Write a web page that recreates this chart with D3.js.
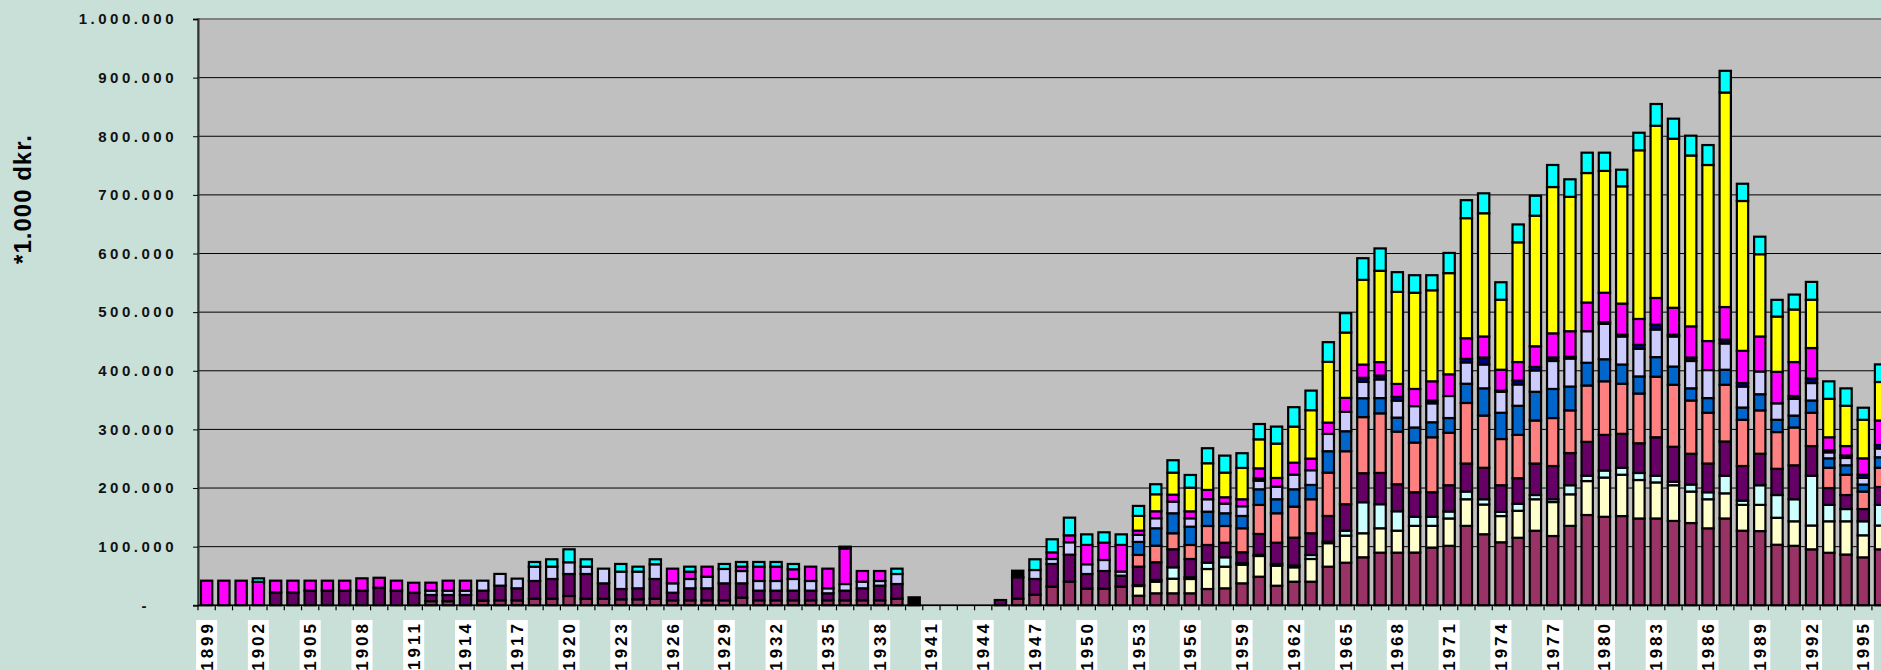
<!DOCTYPE html>
<html>
<head>
<meta charset="utf-8">
<script src="https://cdn.jsdelivr.net/npm/d3@7"></script>
<style>
  html, body { margin: 0; padding: 0; background: #c9e0d8; overflow: hidden; }
  svg { display: block; }
  .yaxis text { font-family: "Liberation Sans", Arial, sans-serif; font-weight: bold; font-size: 15px; letter-spacing: 3.5px; fill: #111; }
  .xlabel { font-family: "Liberation Sans", Arial, sans-serif; font-weight: bold; font-size: 17px; letter-spacing: 3px; fill: #000; }
  .ytitle { font-family: "Liberation Sans", Arial, sans-serif; font-weight: bold; font-size: 24px; letter-spacing: 1px; fill: #000; }
</style>
</head>
<body>
<div id="chart"></div>
<script>
// category axis runs on past the right edge of the window, values read up to 1996
const years = d3.range(1899, 2001);
const dataYears = d3.range(1899, 1997);
const labelYears = d3.range(1899, 1996, 3);
const yTicks = [0, 100, 200, 300, 400, 500, 600, 700, 800, 900, 1000];

// values in thousands of axis units (axis itself is *1.000 dkr.), one entry per year from 1899
const maroon = [
  0, 0, 0, 0, 0, 0, 0, 0, 0, 0,
  0, 0, 0, 7, 7, 0, 8, 8.5, 8.5, 11.3,
  11.3, 15.9, 11.3, 11.3, 10.2, 10.2, 11.3, 8.5, 8.5, 8.5,
  8.5, 13, 8.5, 8.5, 8.5, 8.5, 8.5, 8.5, 8.5, 8.5,
  11.3, 0, 0, 0, 0, 0, 0, 11.3, 18, 31.8,
  40.3, 28.4, 28.4, 31.8, 16.4, 20.5, 20.5, 20.5, 27.8, 29,
  37.5, 48.8, 33.4, 40.3, 40.3, 65.9, 72.7, 81.9, 89.8, 89.8,
  90, 98.5, 101.5, 135.5, 121.2, 107.5, 115.2, 127.2, 118.2, 135.5,
  154, 151, 152.2, 148.1, 148.1, 143.9, 140.3, 131.3, 148.1, 127.2,
  126.6, 103.3, 101.5, 95.5, 89.6, 86.6, 81.8, 95.5
];
const lightYellow = [
  0, 0, 0, 0, 0, 0, 0, 0, 0, 0,
  0, 0, 0, 0, 0, 0, 0, 0, 0, 0,
  0, 0, 0, 0, 0, 0, 0, 0, 0, 0,
  0, 0, 0, 0, 0, 0, 0, 0, 0, 0,
  0, 0, 0, 0, 0, 0, 0, 0, 0, 0,
  0, 0, 0, 0, 16.5, 19.8, 24.9, 24.4, 34.1, 36.9,
  31.8, 35.3, 34.2, 24.5, 38.7, 40.1, 46.1, 41, 41.6, 37.5,
  45.5, 37, 46.6, 45.4, 50.7, 44.7, 46, 53.7, 57.9, 53.8,
  57.9, 66.9, 70.5, 65.6, 61.5, 60.9, 53.7, 49.6, 42.9, 44.1,
  44.7, 46, 41.8, 40.6, 53.7, 56.7, 37.6, 40.6
];
const lightCyan = [
  0, 0, 0, 0, 0, 0, 0, 0, 0, 0,
  0, 0, 0, 0, 0, 0, 0, 0, 0, 0,
  0, 0, 0, 0, 0, 0, 0, 0, 0, 0,
  0, 0, 0, 0, 0, 0, 0, 0, 0, 0,
  0, 0, 0, 0, 0, 0, 0, 0, 0, 0,
  0, 0, 0, 0, 1.5, 2.9, 19.4, 3, 10.8, 16,
  2.7, 2, 3, 3, 6.8, 2.5, 8.5, 52.9, 41, 33.1,
  15.5, 15.5, 11.9, 13.1, 9, 7.2, 11.9, 7.2, 4.8, 15.5,
  9, 12, 11.9, 12, 11.3, 5.9, 12, 11.9, 29.9, 7.2,
  33.5, 38.8, 37.6, 84.8, 28, 20.9, 23.9, 35.2
];
const purple = [
  0, 0, 0, 0, 22, 22, 25, 25, 25, 25,
  30, 25, 21.5, 10.6, 10.6, 17.6, 17, 25, 20.5, 30.2,
  33.6, 37.5, 42.1, 26.2, 17.6, 18.8, 33.6, 13, 20.5, 20.5,
  29, 24.5, 16.5, 16.5, 16.5, 16.5, 12, 16.5, 20.5, 25,
  25, 0, 0, 0, 0, 0, 9, 36.5, 26.9, 38.7,
  46.1, 25, 30.1, 18.7, 31.5, 30.2, 30.8, 31.1, 30.2, 24.9,
  18.4, 35.6, 36.2, 47.6, 37.1, 43.9, 45.1, 49.5, 53.4, 46,
  41.8, 41.8, 44.8, 47.8, 53.7, 45.4, 43.6, 53.7, 56.7, 54.9,
  57.9, 60.8, 57.9, 50.7, 65.7, 59.7, 52.5, 49, 58.5, 59.1,
  53.7, 44.7, 57.9, 50.7, 28.7, 23.9, 20.9, 30.5
];
const salmon = [
  0, 0, 0, 0, 0, 0, 0, 0, 0, 0,
  0, 0, 0, 0, 0, 0, 0, 0, 0, 0,
  0, 0, 0, 0, 0, 0, 0, 0, 0, 0,
  0, 0, 0, 0, 0, 0, 0, 0, 0, 0,
  0, 0, 0, 0, 0, 0, 0, 0, 0, 0,
  0, 0, 0, 0, 20, 28.3, 27.3, 23.9, 32.4, 28.5,
  41, 49.5, 50.2, 52.9, 58, 73.9, 90.4, 95.7, 101.6, 89.8,
  84.8, 93.8, 89.5, 103.3, 89, 78.8, 74, 73.4, 81.8, 72.8,
  96.1, 91.4, 85.4, 84.8, 103.3, 105.7, 90.8, 86.6, 96.7, 78.8,
  74, 62.7, 64.5, 56.8, 34.6, 34.6, 29.8, 32.8
];
const blue = [
  0, 0, 0, 0, 0, 0, 0, 0, 0, 0,
  0, 0, 0, 0, 0, 0, 0, 0, 0, 0,
  0, 0, 0, 0, 0, 0, 0, 0, 0, 0,
  0, 0, 0, 0, 0, 0, 0, 0, 0, 0,
  0, 0, 0, 0, 0, 0, 0, 0, 0, 0,
  0, 0, 0, 0, 22.2, 29.7, 34.1, 31.2, 24.4, 21.7,
  21, 26.7, 23.9, 29.6, 24.4, 36.5, 34.1, 32.2, 26, 23.9,
  25.7, 25.6, 25.1, 32.8, 46.5, 44.8, 49.6, 49, 49.6, 40.6,
  38.8, 37.6, 32.8, 29.2, 33.4, 31.1, 20.8, 25, 25.7, 20.9,
  27.5, 20.9, 20.3, 20.9, 16.1, 16.1, 12, 17.9
];
const lavender = [
  0, 0, 0, 0, 0, 0, 0, 0, 0, 0,
  0, 0, 0, 7.4, 7.4, 7.4, 17, 20, 16.5, 24.4,
  21.1, 20, 12.6, 25, 29.6, 28.4, 25.1, 16, 15.9, 19.8,
  24.5, 21, 16.5, 16.5, 19.9, 16.5, 8.5, 11.3, 11.3, 8,
  17.1, 0, 0, 0, 0, 0, 0, 0, 15.3, 8.5,
  21.1, 16.6, 18.8, 7.1, 12, 17.1, 19.8, 14.3, 21.2, 16.4,
  16.5, 14.7, 21.5, 25, 25.1, 29.5, 33, 27.8, 31.9, 29,
  36.4, 32.3, 37.6, 36.4, 40.6, 35.8, 36.4, 36.4, 47.7, 47.8,
  53.8, 60.3, 47.8, 47.2, 47.1, 51.3, 46.6, 47.8, 44.8, 35.8,
  38.8, 28.1, 28.6, 29.8, 10.2, 12.5, 11.3, 15
];
const navy = [
  0, 0, 0, 0, 0, 0, 0, 0, 0, 0,
  0, 0, 0, 0, 0, 0, 0, 0, 0, 0,
  0, 0, 0, 0, 0, 0, 0, 0, 0, 0,
  0, 0, 0, 0, 0, 0, 0, 0, 0, 0,
  0, 0, 0, 0, 0, 0, 0, 0, 0, 0,
  0, 0, 0, 0, 0, 0, 0, 0, 0, 0,
  0, 4, 0, 0, 0, 0, 0, 7, 6.5, 6.4,
  0, 4.8, 0, 6, 12, 2, 6.6, 6, 6, 3,
  0, 3, 3, 6.6, 8.4, 3, 6, 0, 6.5, 6,
  0, 0, 4.8, 7.8, 3.6, 4.2, 5.4, 5.9
];
const magenta = [
  42, 42, 42, 40, 20, 20, 17, 17, 17, 21,
  17, 17, 17, 13.6, 17, 17, 0, 0, 0, 0,
  0, 0, 0, 0, 0, 0, 0, 25, 12.5, 17.1,
  0, 7.4, 24.4, 24.4, 16.6, 24.4, 33.5, 60.7, 18.2, 17,
  0, 0, 0, 0, 0, 0, 0, 0, 0, 11.4,
  11.9, 33, 29.6, 45.4, 7.3, 11.9, 11.9, 11.9, 15.9, 10.9,
  12, 17, 14.8, 20.4, 19.8, 19.3, 23.9, 22.6, 23, 22.1,
  29.3, 32.8, 37, 35.2, 35.8, 35.6, 31.6, 35.2, 41.2, 43.6,
  48.9, 50.1, 53.1, 44.2, 45.4, 46, 53.1, 49.5, 55.6, 54.9,
  59.7, 53.7, 57.9, 51.9, 22.1, 16.1, 28, 41.8
];
const yellow = [
  0, 0, 0, 0, 0, 0, 0, 0, 0, 0,
  0, 0, 0, 0, 0, 0, 0, 0, 0, 0,
  0, 0, 0, 0, 0, 0, 0, 0, 0, 0,
  0, 0, 0, 0, 0, 0, 0, 0, 0, 0,
  0, 0, 0, 0, 0, 0, 0, 0, 0, 0,
  0, 0, 0, 0, 25.1, 29, 37.6, 40.3, 45.5, 42,
  53.4, 49.5, 58.6, 61.5, 82.6, 103.6, 111.4, 144.5, 155.7, 157,
  164.1, 155.2, 172.6, 204.8, 210.2, 119.4, 204.2, 222.7, 249.5, 229.2,
  220.9, 207.8, 200, 287.7, 293.7, 288.3, 291.4, 300.3, 365.9, 255.6,
  140.3, 94.3, 89.6, 82.4, 65.6, 68.7, 65.7, 65.7
];
const cyan = [
  0, 0, 0, 6, 0, 0, 0, 0, 0, 0,
  0, 0, 0, 0, 0, 0, 0, 0, 0, 8,
  12.5, 22.1, 12.5, 0, 13.1, 8.5, 8.5, 0, 8.5, 0,
  8.5, 8, 8, 8, 9, 0, 0, 0, 0, 0,
  9.1, 0, 0, 0, 0, 0, 0, 0, 18.3, 22.2,
  30.1, 18, 17.6, 18, 17, 17.1, 21.1, 21.7, 25.6, 29,
  25.1, 26.1, 29, 33.1, 33.4, 33.6, 33.1, 36.9, 38.2, 33.6,
  29.9, 25.7, 34.4, 30.7, 34, 29.8, 30.5, 34, 37.6, 29.9,
  34.7, 31.1, 28.4, 29.9, 37.1, 34.2, 33.8, 34, 37, 29.4,
  29.9, 28.5, 25.5, 30.4, 29.8, 29.7, 20.6, 30
];
const black = [
  0, 0, 0, 0, 0, 0, 0, 0, 0, 0,
  0, 0, 0, 0, 0, 0, 0, 0, 0, 0,
  0, 0, 0, 0, 0, 0, 0, 0, 0, 0,
  0, 0, 0, 0, 0, 0, 0, 3, 0, 0,
  0, 13.6, 0, 0, 0, 0, 0, 11.2, 0, 0,
  0, 0, 0, 0, 0, 0, 0, 0, 0, 0,
  0, 0, 0, 0, 0, 0, 0, 0, 0, 0,
  0, 0, 0, 0, 0, 0, 0, 0, 0, 0,
  0, 0, 0, 0, 0, 0, 0, 0, 0, 0,
  0, 0, 0, 0, 0, 0, 0, 0
];

const series = [
  {key: "maroon", values: maroon, color: "#993366"},
  {key: "lightYellow", values: lightYellow, color: "#ffffcc"},
  {key: "lightCyan", values: lightCyan, color: "#ccffff"},
  {key: "purple", values: purple, color: "#660066"},
  {key: "salmon", values: salmon, color: "#ff8080"},
  {key: "blue", values: blue, color: "#0066cc"},
  {key: "lavender", values: lavender, color: "#ccccff"},
  {key: "navy", values: navy, color: "#000080"},
  {key: "magenta", values: magenta, color: "#ff00ff"},
  {key: "yellow", values: yellow, color: "#ffff00"},
  {key: "cyan", values: cyan, color: "#00ffff"},
  {key: "black", values: black, color: "#000000"}
];

const width = 1881, height = 670;
const plot = {left: 198, top: 19, bottom: 605.3};
const step = 17.257;

const svg = d3.select("#chart").append("svg")
    .attr("width", width)
    .attr("height", height);

svg.append("rect")
    .attr("width", width).attr("height", height)
    .attr("fill", "#c9e0d8");

let x = d3.scaleBand()
    .domain(years)
    .range([plot.left, plot.left + step * years.length])
    .paddingInner(0.345)
    .paddingOuter(0.1725);

let y = d3.scaleLinear()
    .domain([0, 1000])
    .range([plot.bottom, plot.top]);

// plot area
svg.append("rect")
    .attr("x", plot.left).attr("y", plot.top)
    .attr("width", step * years.length).attr("height", plot.bottom - plot.top)
    .attr("fill", "#c0c0c0")
    .attr("stroke", "#808080")
    .attr("stroke-width", 2);

// gridlines
svg.append("g")
    .selectAll("line")
    .data(yTicks.filter(d => d > 0 && d < 1000))
    .enter()
    .append("line")
    .attr("x1", plot.left).attr("x2", plot.left + step * years.length)
    .attr("y1", d => y(d)).attr("y2", d => y(d))
    .attr("stroke", "#000")
    .attr("stroke-width", 1);

// stacked bars
const table = dataYears.map(function(yr, i) {
    let row = {year: yr};
    series.forEach(s => row[s.key] = s.values[i]);
    return row;
});
const stacked = d3.stack().keys(series.map(s => s.key))(table);

svg.append("g")
    .selectAll("g")
    .data(stacked)
    .enter()
    .append("g")
    .attr("fill", (d, i) => series[i].color)
    .selectAll("rect")
    .data(d => d.filter(e => e[1] - e[0] > 0))
    .enter()
    .append("rect")
    .attr("x", d => x(d.data.year))
    .attr("width", x.bandwidth())
    .attr("y", d => y(d[1]))
    .attr("height", d => y(d[0]) - y(d[1]))
    .attr("stroke", "#000")
    .attr("stroke-width", 2.2);

// left axis
const fmt = d3.formatLocale({decimal: ",", thousands: ".", grouping: [3], currency: ["", ""]}).format(",");
let yAxis = d3.axisLeft(y)
    .tickValues(yTicks)
    .tickSize(5)
    .tickPadding(20)
    .tickFormat(d => d === 0 ? "-" : fmt(d * 1000));

let yg = svg.append("g")
    .attr("class", "yaxis")
    .attr("transform", "translate(" + plot.left + ",0)")
    .call(yAxis);
yg.select(".domain").attr("stroke", "#333").attr("stroke-width", 2);
yg.selectAll(".tick line").attr("stroke", "#000");
yg.selectAll(".tick text").attr("x", -21);
yg.selectAll(".tick").filter(d => d === 0).select("text").attr("x", -48);

// baseline and category ticks between bars
svg.append("line")
    .attr("x1", plot.left).attr("x2", width)
    .attr("y1", plot.bottom).attr("y2", plot.bottom)
    .attr("stroke", "#000").attr("stroke-width", 1.5);

svg.append("g")
    .selectAll("line")
    .data(years)
    .enter()
    .append("line")
    .attr("x1", d => x(d) - x.step() * x.paddingInner() / 2)
    .attr("x2", d => x(d) - x.step() * x.paddingInner() / 2)
    .attr("y1", plot.bottom).attr("y2", plot.bottom + 5)
    .attr("stroke", "#000").attr("stroke-width", 1.2);

// year labels, every third year, on white boxes
let labels = svg.append("g")
    .selectAll("g")
    .data(labelYears)
    .enter()
    .append("g")
    .attr("transform", d => "translate(" + (x(d) + x.bandwidth() / 2) + ",0)");

labels.append("rect")
    .attr("x", -10.5).attr("y", 620)
    .attr("width", 21).attr("height", 60)
    .attr("fill", "#fff");

labels.append("text")
    .attr("class", "xlabel")
    .attr("transform", "translate(6,621) rotate(-90)")
    .attr("text-anchor", "end")
    .text(d => d);

// axis title
svg.append("text")
    .attr("class", "ytitle")
    .attr("transform", "translate(31,199) rotate(-90)")
    .attr("text-anchor", "middle")
    .text("*1.000 dkr.");
</script>
</body>
</html>
